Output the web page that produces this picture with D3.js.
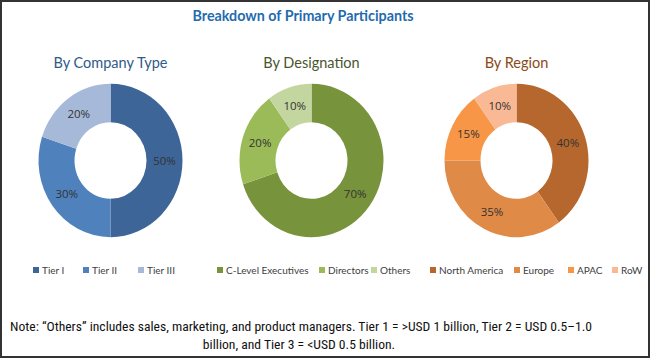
<!DOCTYPE html>
<html>
<head>
<meta charset="utf-8">
<script src="https://d3js.org/d3.v7.min.js"></script>
<style>
body { margin: 0; background: #fff; }
svg { display: block; }
</style>
</head>
<body>
<div id="chart"></div>
<script>
// data
var companyLabels = ["Tier I", "Tier II", "Tier III"],
	companyValues = [50, 30, 20],
	designationLabels = ["C-Level Executives", "Directors", "Others"],
	designationValues = [70, 20, 10],
	regionLabels = ["North America", "Europe", "APAC", "RoW"],
	regionValues = [40, 35, 15, 10];

var w = 650, h = 359;

var svg = d3.select("#chart").append("svg")
	.attr("width", w)
	.attr("height", h);

// outer frame
svg.append("rect")
	.attr("x", 1).attr("y", 1)
	.attr("width", w - 2).attr("height", h - 3)
	.style("fill", "none")
	.style("stroke", "#333")
	.style("stroke-width", 2);

svg.append("text")
	.attr("x", 303).attr("y", 21)
	.attr("text-anchor", "middle")
	.style("font-family", "Lato, 'Open Sans', sans-serif")
	.style("font-weight", "bold")
	.style("font-size", "14.3px")
	.style("fill", "#1F6BAE")
	.text("Breakdown of Primary Participants");

var panels = [
	{ title: "By Company Type", titleColor: "#2F5A8A", cx: 110.5, labels: companyLabels, values: companyValues,
	  colors: ["#3D6597", "#4F81BD", "#A7B9D9"], legendX: [33, 83, 138] },
	{ title: "By Designation", titleColor: "#4A5530", cx: 311.5, labels: designationLabels, values: designationValues,
	  colors: ["#77933C", "#9BBB59", "#C4D6A0"], legendX: [217, 319, 371] },
	{ title: "By Region", titleColor: "#8A4A17", cx: 516.5, labels: regionLabels, values: regionValues,
	  colors: ["#B5672D", "#E08A48", "#F79646", "#F9B995"], legendX: [430, 514, 568, 612] }
];

var cy = 160.5, rOut = 72, rIn = 36, sy = 1.065;

var pie = d3.pie().sort(null).value(function(d) { return d; });
var arc = d3.arc().innerRadius(rIn).outerRadius(rOut);

panels.forEach(function(p) {
	svg.append("text")
		.attr("x", p.cx).attr("y", 68)
		.attr("text-anchor", "middle")
		.style("font-family", "Lato, 'Open Sans', sans-serif")
		.style("font-size", "14.5px")
		.style("fill", p.titleColor)
		.text(p.title);

	var arcs = pie(p.values);
	var g = svg.append("g")
		.attr("transform", "translate(" + p.cx + "," + cy + ") scale(1," + sy + ")");
	g.selectAll("path")
		.data(arcs)
		.enter().append("path")
		.attr("d", arc)
		.style("fill", function(d, i) { return p.colors[i]; });

	svg.selectAll(null)
		.data(arcs)
		.enter().append("text")
		.attr("x", function(d) { return p.cx + arc.centroid(d)[0]; })
		.attr("y", function(d) { return cy + arc.centroid(d)[1] * sy + 4; })
		.attr("text-anchor", "middle")
		.style("font-family", "'Open Sans', sans-serif")
		.style("font-size", "11.5px")
		.style("fill", "#333")
		.text(function(d) { return d.data + "%"; });

	// legend for this panel
	var leg = svg.selectAll(null)
		.data(p.labels)
		.enter().append("g")
		.attr("transform", function(d, i) { return "translate(" + p.legendX[i] + ",270)"; });
	leg.append("rect")
		.attr("x", 0).attr("y", -3)
		.attr("width", 6).attr("height", 6)
		.style("fill", function(d, i) { return p.colors[i]; });
	leg.append("text")
		.attr("x", 9).attr("y", 4)
		.style("font-family", "Lato, 'Open Sans', sans-serif")
		.style("font-size", "10px")
		.style("fill", "#404040")
		.text(function(d) { return d; });
});

// note
var noteLines = [
	"Note: \u201cOthers\u201d includes sales, marketing, and product managers. Tier 1 = >USD 1 billion, Tier 2 = USD 0.5\u20131.0",
	"billion, and Tier 3 = <USD 0.5 billion."
];
svg.append("text")
	.attr("x", 10).attr("y", 331)
	.style("font-family", "'Roboto Condensed', 'Liberation Sans Narrow', sans-serif")
	.style("font-size", "13.6px")
	.style("fill", "#111")
	.text(noteLines[0]);
svg.append("text")
	.attr("x", 299).attr("y", 349)
	.attr("text-anchor", "middle")
	.style("font-family", "'Roboto Condensed', 'Liberation Sans Narrow', sans-serif")
	.style("font-size", "13.6px")
	.style("fill", "#111")
	.text(noteLines[1]);
</script>
</body>
</html>
